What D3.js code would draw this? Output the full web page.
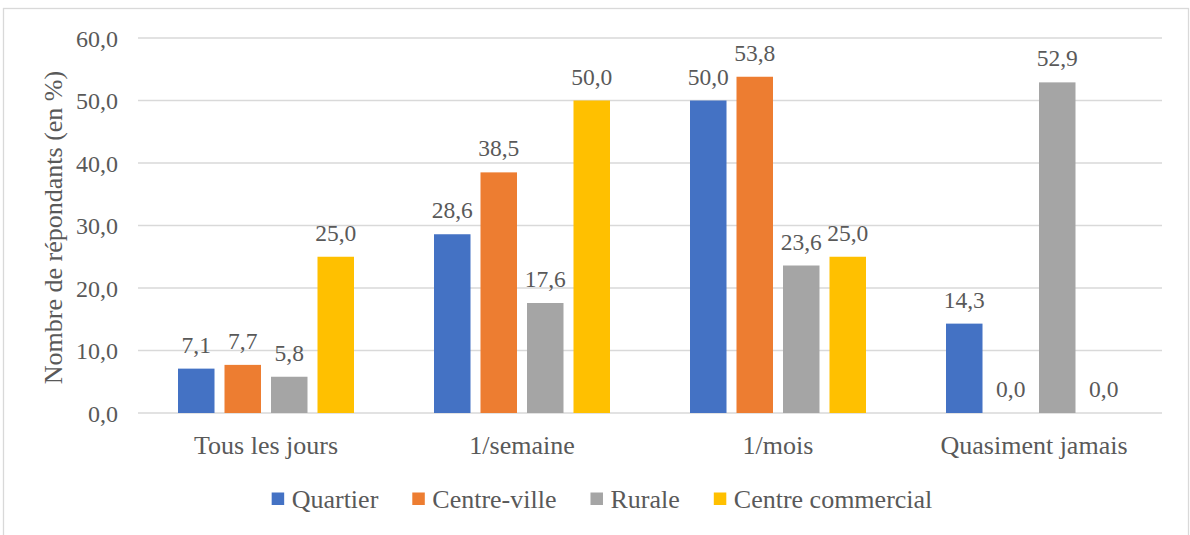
<!DOCTYPE html>
<html>
<head>
<meta charset="utf-8">
<script src="https://cdn.jsdelivr.net/npm/d3@7"></script>
<style>
  html, body { margin: 0; padding: 0; background: #fff; }
  svg { display: block; }
  text { font-family: "Liberation Serif", "Times New Roman", serif; fill: #595959; }
</style>
</head>
<body>
<svg id="chart" width="1190" height="535"></svg>
<script>
const categories = ["Tous les jours", "1/semaine", "1/mois", "Quasiment jamais"];
const seriesNames = ["Quartier", "Centre-ville", "Rurale", "Centre commercial"];
const quartier = [7.1, 28.6, 50.0, 14.3];
const centreVille = [7.7, 38.5, 53.8, 0.0];
const rurale = [5.8, 17.6, 23.6, 52.9];
const centreCommercial = [25.0, 50.0, 25.0, 0.0];
const yTicks = [0, 10, 20, 30, 40, 50, 60];
const colors = ["#4472C4", "#ED7D31", "#A5A5A5", "#FFC000"];
const yTitle = "Nombre de répondants (en %)";

const seriesValues = [quartier, centreVille, rurale, centreCommercial];
const fmt = v => v.toFixed(1).replace(".", ",");

const svg = d3.select("#chart");
const plot = { left: 138, right: 1162, top: 38, bottom: 413 };

// outer border
svg.append("rect")
  .attr("x", 3.5).attr("y", 8.5)
  .attr("width", 1185).attr("height", 560)
  .attr("fill", "none").attr("stroke", "#D9D9D9").attr("stroke-width", 1.3);

const y = d3.scaleLinear().domain([0, 60]).range([plot.bottom, plot.top]);
const x0 = d3.scaleBand().domain(categories).range([plot.left, plot.right]).padding(0);
const x1 = d3.scaleBand().domain(seriesNames).range([40, x0.bandwidth() - 40]).paddingInner(0.215).paddingOuter(0);

// gridlines
svg.append("g").selectAll("line").data(yTicks).join("line")
  .attr("x1", plot.left).attr("x2", plot.right)
  .attr("y1", d => y(d)).attr("y2", d => y(d))
  .attr("stroke", "#D9D9D9").attr("stroke-width", 1.3);

// y axis labels
const yAxis = d3.axisLeft(y).tickValues(yTicks).tickFormat(fmt).tickSize(0).tickPadding(20);
const yg = svg.append("g").attr("transform", `translate(${plot.left},0)`).call(yAxis);
yg.select(".domain").remove();
yg.selectAll("text").style("font-size", "24px").attr("fill", "#595959")
  .style("font-family", '"Liberation Serif", serif').attr("dy", "0.34em");

// x axis labels
const xAxis = d3.axisBottom(x0).tickSize(0).tickPadding(0);
const xg = svg.append("g").attr("transform", `translate(0,${plot.bottom})`).call(xAxis);
xg.select(".domain").remove();
xg.selectAll("text").style("font-size", "26px").attr("fill", "#595959")
  .style("font-family", '"Liberation Serif", serif').attr("y", 41).attr("dy", 0);

// bars
const rows = categories.map((c, i) => ({ cat: c, vals: seriesNames.map((s, j) => ({ s, j, v: seriesValues[j][i] })) }));
const groups = svg.append("g").selectAll("g").data(rows).join("g")
  .attr("transform", d => `translate(${x0(d.cat)},0)`);
groups.selectAll("rect").data(d => d.vals.filter(e => e.v > 0)).join("rect")
  .attr("x", d => x1(d.s)).attr("width", x1.bandwidth())
  .attr("y", d => y(d.v)).attr("height", d => y(0) - y(d.v))
  .attr("fill", d => colors[d.j]);
groups.selectAll("text").data(d => d.vals).join("text")
  .attr("x", d => x1(d.s) + x1.bandwidth() / 2)
  .attr("y", d => y(d.v) - 16)
  .attr("text-anchor", "middle")
  .style("font-size", "23.5px")
  .text(d => fmt(d.v));

// y title
svg.append("text")
  .attr("transform", `translate(62,${(plot.top + plot.bottom) / 2 + 2}) rotate(-90)`)
  .attr("text-anchor", "middle")
  .style("font-size", "26px")
  .text(yTitle);

// legend
const leg = svg.append("g");
const items = leg.selectAll("g").data(seriesNames).join("g");
items.append("rect").attr("width", 12.5).attr("height", 12.5).attr("y", 492.5)
  .attr("fill", (d, i) => colors[i]);
items.append("text").attr("x", 20).attr("y", 508).style("font-size", "26px").text(d => d);
let cx = 0;
const gap = 34;
items.each(function() {
  const w = 20 + d3.select(this).select("text").node().getComputedTextLength();
  d3.select(this).attr("data-x", cx);
  cx += w + gap;
});
const total = cx - gap;
const start = 602 - total / 2;
items.attr("transform", function() { return `translate(${start + +d3.select(this).attr("data-x")},0)`; });
</script>
</body>
</html>
